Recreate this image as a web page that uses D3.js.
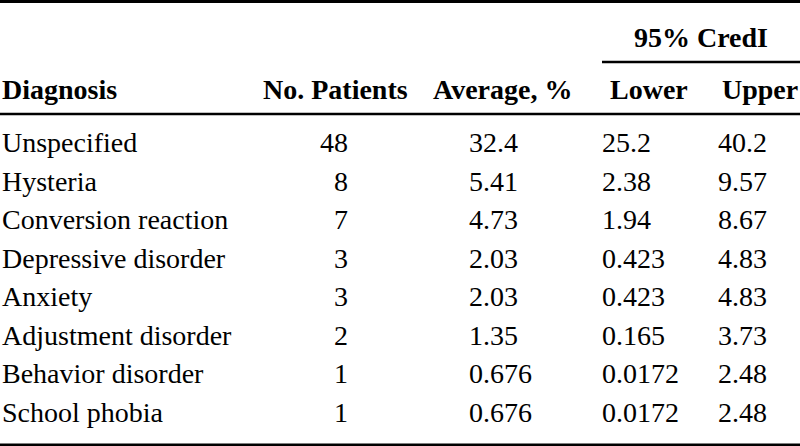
<!DOCTYPE html>
<html>
<body>
    <style>
        body, html { margin: 0; padding: 0; background: #fff; }
        svg { display: block; }
        text { font-size: 28px; fill: #000; }
        .head { font-weight: bold; }
    </style>

    <svg width="800" height="446"></svg>

    <script src="https://d3js.org/d3.v7.min.js"></script>
    <script>
        // table data
        var diagnoses = ["Unspecified", "Hysteria", "Conversion reaction", "Depressive disorder",
                         "Anxiety", "Adjustment disorder", "Behavior disorder", "School phobia"];
        var patients = [48, 8, 7, 3, 3, 2, 1, 1];
        var average = [32.4, 5.41, 4.73, 2.03, 2.03, 1.35, 0.676, 0.676];
        var lower = [25.2, 2.38, 1.94, 0.423, 0.423, 0.165, 0.0172, 0.0172];
        var upper = [40.2, 9.57, 8.67, 4.83, 4.83, 3.73, 2.48, 2.48];
        var headers = ["Diagnosis", "No. Patients", "Average, %", "Lower", "Upper"];
        var spanHeader = "95% CredI";

        var width = 800, height = 446;
        var font = "'Liberation Serif', 'DejaVu Serif', serif";
        var svg = d3.select("svg").style("font-family", font);

        // row baselines
        var y = d3.scalePoint().domain(diagnoses).range([152, 422]);

        // column layout: header x, cell x, cell anchor
        var cols = [
            { hx: 2,   cx: 2,   anchor: "start", values: diagnoses },
            { hx: 263, cx: 348, anchor: "end",   values: patients },
            { hx: 433, cx: 469, anchor: "start", values: average },
            { hx: 610, cx: 602, anchor: "start", values: lower },
            { hx: 722, cx: 718, anchor: "start", values: upper }
        ];

        // rules
        function rule(x1, x2, yy, w) {
            svg.append("line")
                .attr("x1", x1).attr("x2", x2)
                .attr("y1", yy).attr("y2", yy)
                .attr("stroke", "#000").attr("stroke-width", w);
        }
        rule(0, width, 1.5, 3);
        rule(0, width, 114, 2.5);
        rule(602, width, 62, 2.5);
        rule(0, width, 444.8, 2.5);

        // spanning header
        svg.append("text").attr("class", "head")
            .attr("font-family", font)
            .attr("x", 701).attr("y", 47)
            .attr("text-anchor", "middle")
            .text(spanHeader);

        // column headers
        svg.selectAll("text.colhead")
            .data(headers)
            .join("text")
            .attr("class", "head colhead")
            .attr("font-family", font)
            .attr("x", function(d, i) { return cols[i].hx; })
            .attr("y", 99)
            .text(function(d) { return d; });

        // body cells
        cols.forEach(function(c) {
            svg.append("g").selectAll("text")
                .data(c.values)
                .join("text")
                .attr("font-family", font)
                .attr("x", c.cx)
                .attr("y", function(d, i) { return y(diagnoses[i]); })
                .attr("text-anchor", c.anchor)
                .text(function(d) { return String(d); });
        });
    </script>
</body>
</html>
